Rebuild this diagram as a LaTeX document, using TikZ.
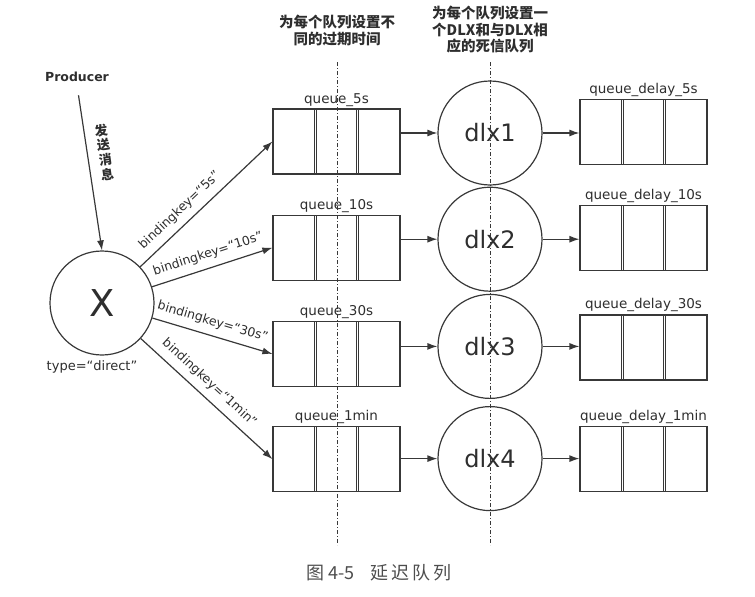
\documentclass[tikz,border=0pt]{standalone}
\usepackage{fontspec}
\setmainfont{DejaVu Sans}
\newfontfamily\cjk{Noto Sans CJK SC}
\usetikzlibrary{positioning, arrows.meta}
\definecolor{linecol}{HTML}{383838}
\definecolor{textcol}{HTML}{2E2E2E}
\tikzset{
x=1pt, y=-1pt, % picture units follow the pixel grid
arr/.style={-{Latex[length=10pt,width=7pt]}, draw=linecol, line width=1.2pt}, % connectors
divider/.style={draw=linecol, line width=1pt, dash pattern=on 4pt off 2pt on 1pt off 2pt},
queuebox/.style={draw=linecol, line width=1.2pt, minimum width=127pt, minimum height=65pt, inner sep=0pt,
  path picture={
    \draw[linecol, line width=1pt, double, double distance=1.4pt]
      ([xshift=42.3pt]path picture bounding box.south west) -- ([xshift=42.3pt]path picture bounding box.north west)
      ([xshift=-42.3pt]path picture bounding box.south east) -- ([xshift=-42.3pt]path picture bounding box.north east);
  }},
qlabel/.style={text=textcol, font=\fontsize{13.5}{16}\selectfont, inner sep=2pt},
dlxnode/.style={circle, draw=linecol, line width=1.2pt, minimum size=104pt, inner sep=0pt, text=textcol, font=\fontsize{24}{28}\selectfont},
exch/.style={circle, draw=linecol, line width=1.2pt, minimum size=104pt, inner sep=0pt, text=textcol, font=\fontsize{37}{40}\selectfont},
keylabel/.style={sloped, above=5pt, text=textcol, font=\fontsize{12.5}{14}\selectfont, inner sep=2pt},
plain/.style={text=textcol, font=\fontsize{13}{15}\selectfont},
msglabel/.style={text=textcol, align=center, rotate=8, font=\cjk\bfseries\fontsize{13}{15}\selectfont},
toplabel/.style={text=textcol, align=center, font=\cjk\bfseries\fontsize{14.5}{16.5}\selectfont},
}

\begin{document}
\begin{tikzpicture}
      \useasboundingbox (0,0) rectangle (755,597);
      % exchange and producer
      \node[plain, font=\bfseries\fontsize{12.5}{15}\selectfont] (prod) at (77,77) {Producer};
      \node[exch] (x) at (102,303) {X};
      \node[plain, below=1pt of x, xshift=-10pt] (xtype) {type=“direct”};
      % queues with a ttl
      \node[queuebox, label={[qlabel]above:queue\_5s}] (q5) at (336.5,141.5) {};
      \node[queuebox, below=40pt of q5, label={[qlabel]above:queue\_10s}] (q10) {};
      \node[queuebox, below=40pt of q10, label={[qlabel]above:queue\_30s}] (q30) {};
      \node[queuebox, below=39pt of q30, label={[qlabel]above:queue\_1min}] (q1m) {};
      % dead letter exchanges
      \node[dlxnode] (d1) at (490,133) {dlx1};
      \node[dlxnode, below=1pt of d1] (d2) {dlx2};
      \node[dlxnode, below=2pt of d2] (d3) {dlx3};
      \node[dlxnode, below=7pt of d3] (d4) {dlx4};
      % dead letter queues
      \node[queuebox, label={[qlabel]above:queue\_delay\_5s}] (r5) at (643.5,132) {};
      \node[queuebox, below=40pt of r5, label={[qlabel]above:queue\_delay\_10s}] (r10) {};
      \node[queuebox, below=43pt of r10, label={[qlabel]above:queue\_delay\_30s}] (r30) {};
      \node[queuebox, below=45pt of r30, label={[qlabel]above:queue\_delay\_1min}] (r1m) {};
      % notes on top
      \node[toplabel] (note1) at (337,30.5) {为每个队列设置不\\同的过期时间};
      \node[toplabel] (note2) at (490,30) {为每个队列设置一\\个DLX和与DLX相\\应的死信队列};
      \draw[divider] (337,62) -- (337,545);
      \draw[divider] (490,62) -- (490,545);
      \path (prod.south) edge[arr, shorten <=10pt] node[msglabel, pos=0.42, xshift=17pt] {发\\送\\消\\息} (x.north)
      (x) edge[arr] node[keylabel, pos=0.37] {bindingkey=“5s”} (q5.west)
      (x) edge[arr] node[keylabel, pos=0.5] {bindingkey=“10s”} (q10.west)
      (x) edge[arr] node[keylabel, pos=0.47] {bindingkey=“30s”} (q30.west)
      (x) edge[arr] node[keylabel, pos=0.45] {bindingkey=“1min”} (q1m.west);
      \draw[arr] (q5.east |- d1) -- (d1);
      \draw[arr] (q10.east |- d2) -- (d2);
      \draw[arr] (q30.east |- d3) -- (d3);
      \draw[arr] (q1m.east |- d4) -- (d4);
      \draw[arr] (d1) -- (d1 -| r5.west);
      \draw[arr] (d2) -- (d2 -| r10.west);
      \draw[arr] (d3) -- (d3 -| r30.west);
      \draw[arr] (d4) -- (d4 -| r1m.west);
      % caption
      \node[text=textcol!85, font=\cjk\fontsize{18}{20}\selectfont] (caption) at (379,573) {图 4-5\hspace{16pt}延\kern3pt 迟\kern3pt 队\kern3pt 列};
    \end{tikzpicture}
\end{document}
